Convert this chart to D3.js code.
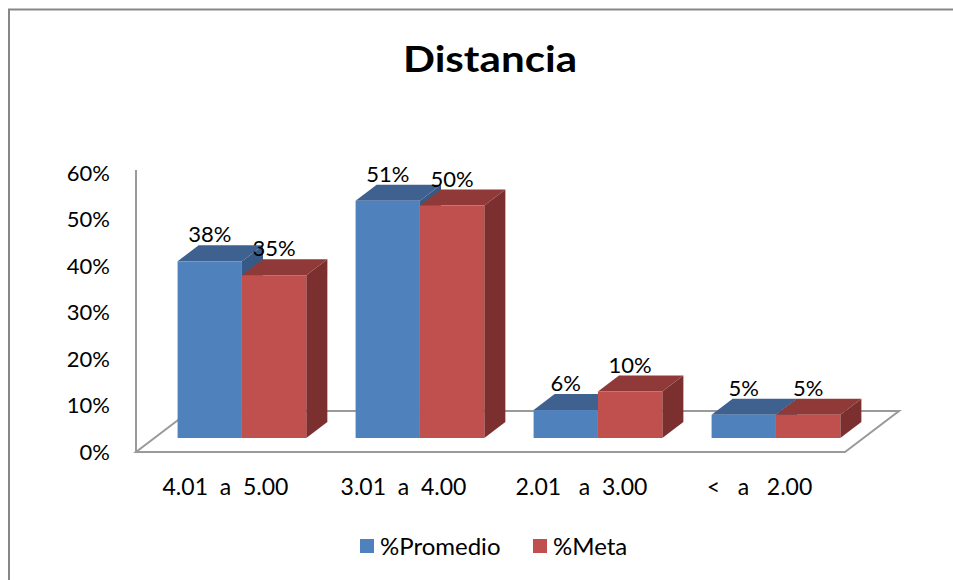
<!DOCTYPE html>
<html>
<head>
<meta charset="utf-8">
<script src="https://cdn.jsdelivr.net/npm/d3@7"></script>
<style>
  html, body { margin: 0; padding: 0; background: #ffffff; }
  svg { display: block; }
  text { font-family: Lato, "Open Sans", sans-serif; fill: #000; }
</style>
</head>
<body>
<svg id="chart" width="953" height="580"></svg>
<script>
// Chart data
const title = "Distancia";
const categories = ["4.01  a  5.00", "3.01  a  4.00", "2.01   a  3.00", "<   a   2.00"];
const seriesNames = ["%Promedio", "%Meta"];
const promedio = [0.38, 0.51, 0.06, 0.05];
const meta = [0.35, 0.50, 0.10, 0.05];
const yTicks = [0, 0.1, 0.2, 0.3, 0.4, 0.5, 0.6];

const seriesValues = [promedio, meta];
const colors = [
  { front: "#4F81BD", top: "#3E6190", side: "#365A85" },
  { front: "#C0504D", top: "#8F3A38", side: "#7B302F" }
];

const svg = d3.select("#chart");

// Outer frame
svg.append("path")
  .attr("d", "M9,590 L9,9.5 L960,9.5")
  .attr("fill", "none")
  .attr("stroke", "#878787")
  .attr("stroke-width", 2);

// Title
svg.append("text")
  .attr("x", 490)
  .attr("y", 72)
  .attr("text-anchor", "middle")
  .attr("font-size", 37)
  .attr("font-weight", 700)
  .attr("textLength", 174)
  .attr("lengthAdjust", "spacingAndGlyphs")
  .text(title);

// Scales on the front plane of the floor
const x = d3.scaleBand()
  .domain(categories)
  .range([136, 845])
  .paddingInner(0.277)
  .paddingOuter(0.13);

const xs = d3.scaleBand()
  .domain(seriesNames)
  .range([0, x.bandwidth()]);

const y = d3.scaleLinear()
  .domain([0, 0.6])
  .range([452, 173]);

// Oblique projection for depth (pixels of x per pixel of rise)
const slant = 54 / 41;
const floorDepth = 41;      // floor depth (vertical pixels)
const barOffset = 14;       // bars sit this far back on the floor
const barDepth = 16;        // depth of each bar

const [x0, x1] = x.range();
const y0 = y(0);

// Floor
const floorPts = [
  [x0, y0], [x1, y0],
  [x1 + floorDepth * slant, y0 - floorDepth],
  [x0 + floorDepth * slant, y0 - floorDepth]
];
svg.append("polygon")
  .attr("points", floorPts.map(p => p.join(",")).join(" "))
  .attr("fill", "#ffffff")
  .attr("stroke", "#9a9a9a")
  .attr("stroke-width", 2)
  .attr("stroke-linejoin", "miter");

// Vertical value axis line
svg.append("line")
  .attr("x1", x0).attr("x2", x0)
  .attr("y1", y(0.6) - 3).attr("y2", y0)
  .attr("stroke", "#9a9a9a")
  .attr("stroke-width", 2);

// Value axis labels
const yAxis = d3.axisLeft(y)
  .tickValues(yTicks)
  .tickSize(0)
  .tickPadding(26)
  .tickFormat(d3.format(".0%"));

const yg = svg.append("g")
  .attr("transform", `translate(${x0},0)`)
  .call(yAxis);
yg.select(".domain").remove();
yg.selectAll("text")
  .attr("font-family", "Lato, 'Open Sans', sans-serif")
  .attr("font-size", 22)
  .attr("fill", "#000");

// Bars
const ox = barOffset * slant;
const oy = -barOffset;
const dx = barDepth * slant;
const dy = -barDepth;

const bars = [];
categories.forEach((c, i) => {
  seriesNames.forEach((s, j) => {
    bars.push({ cat: c, series: s, j: j, value: seriesValues[j][i] });
  });
});

const barG = svg.append("g");
bars.forEach(b => {
  const left = x(b.cat) + xs(b.series) + ox;
  const right = left + xs.bandwidth();
  const top = y(b.value) + oy;
  const bottom = y(0) + oy;
  const col = colors[b.j];
  const g = barG.append("g");

  // side face
  g.append("polygon")
    .attr("points", [
      [right, bottom], [right + dx, bottom + dy],
      [right + dx, top + dy], [right, top]
    ].map(p => p.join(",")).join(" "))
    .attr("fill", col.side);

  // top face
  g.append("polygon")
    .attr("points", [
      [left, top], [right, top],
      [right + dx, top + dy], [left + dx, top + dy]
    ].map(p => p.join(",")).join(" "))
    .attr("fill", col.top);

  // front face
  g.append("rect")
    .attr("x", left)
    .attr("y", top)
    .attr("width", right - left)
    .attr("height", bottom - top)
    .attr("fill", col.front);
});

// Value labels
bars.forEach(b => {
  const cx = x(b.cat) + xs(b.series) + xs.bandwidth() / 2 + ox;
  svg.append("text")
    .attr("x", cx)
    .attr("y", y(b.value) + oy - 19)
    .attr("text-anchor", "middle")
    .attr("font-size", 22)
    .text(d3.format(".0%")(b.value));
});

// Category labels
svg.append("g")
  .selectAll("text")
  .data(categories)
  .join("text")
  .attr("x", d => x(d) + x.bandwidth() / 2 + 2)
  .attr("y", 495)
  .attr("text-anchor", "middle")
  .attr("font-size", 23)
  .attr("xml:space", "preserve")
  .style("white-space", "pre")
  .text(d => d);

// Legend
const legend = svg.append("g");
const legendX = [360, 533];
seriesNames.forEach((s, j) => {
  legend.append("rect")
    .attr("x", legendX[j])
    .attr("y", 539)
    .attr("width", 14)
    .attr("height", 14)
    .attr("fill", colors[j].front);
  legend.append("text")
    .attr("x", legendX[j] + 20)
    .attr("y", 555)
    .attr("font-size", 24)
    .text(s);
});
</script>
</body>
</html>
